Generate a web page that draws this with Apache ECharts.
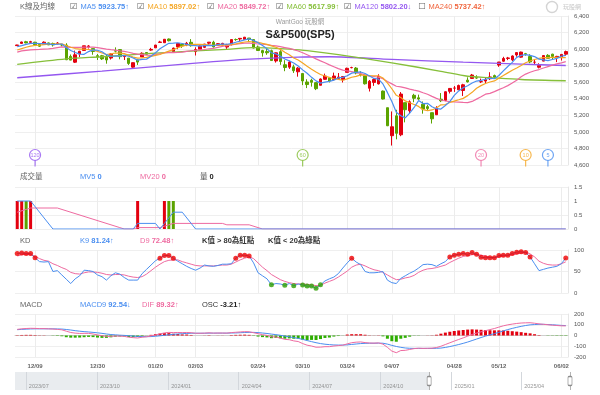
<!DOCTYPE html>
<html>
<head>
<meta charset="utf-8">
<script src="https://cdn.jsdelivr.net/npm/echarts@6.0.0/dist/echarts.min.js"></script>
<style>
html,body{margin:0;padding:0;background:#fff;}
#chart{width:600px;height:395px;}
</style>
</head>
<body>
<div id="chart"></div>
<script>
// ================= DATA =================
const dates = [
'2024-12-03','2024-12-04','2024-12-05','2024-12-06','2024-12-09','2024-12-10','2024-12-11','2024-12-12','2024-12-13','2024-12-16',
'2024-12-17','2024-12-18','2024-12-19','2024-12-20','2024-12-23','2024-12-24','2024-12-26','2024-12-27','2024-12-30','2024-12-31',
'2025-01-02','2025-01-03','2025-01-06','2025-01-07','2025-01-08','2025-01-10','2025-01-13','2025-01-14','2025-01-15','2025-01-16',
'2025-01-17','2025-01-21','2025-01-22','2025-01-23','2025-01-24','2025-01-27','2025-01-28','2025-01-29','2025-01-30','2025-01-31',
'2025-02-03','2025-02-04','2025-02-05','2025-02-06','2025-02-07','2025-02-10','2025-02-11','2025-02-12','2025-02-13','2025-02-14',
'2025-02-18','2025-02-19','2025-02-20','2025-02-21','2025-02-24','2025-02-25','2025-02-26','2025-02-27','2025-02-28','2025-03-03',
'2025-03-04','2025-03-05','2025-03-06','2025-03-07','2025-03-10','2025-03-11','2025-03-12','2025-03-13','2025-03-14','2025-03-17',
'2025-03-18','2025-03-19','2025-03-20','2025-03-21','2025-03-24','2025-03-25','2025-03-26','2025-03-27','2025-03-28','2025-03-31',
'2025-04-01','2025-04-02','2025-04-03','2025-04-04','2025-04-07','2025-04-08','2025-04-09','2025-04-10','2025-04-11','2025-04-14',
'2025-04-15','2025-04-16','2025-04-17','2025-04-21','2025-04-22','2025-04-23','2025-04-24','2025-04-25','2025-04-28','2025-04-29',
'2025-04-30','2025-05-01','2025-05-02','2025-05-05','2025-05-06','2025-05-07','2025-05-08','2025-05-09','2025-05-12','2025-05-13',
'2025-05-14','2025-05-15','2025-05-16','2025-05-19','2025-05-20','2025-05-21','2025-05-22','2025-05-23','2025-05-27','2025-05-28',
'2025-05-29','2025-05-30','2025-06-02','2025-06-03'];

// tick label weeks shown under the chart
const tickDates = ['2024-12-09','2024-12-30','2025-01-20','2025-02-03','2025-02-24','2025-03-10','2025-03-24','2025-04-07','2025-04-28','2025-05-12','2025-06-02'];

const prevClose = 6047.15;

// [open, close, low, high]
const kbars = [
[6042,6050,6038,6052],[6069,6086,6061,6089],[6089,6075,6070,6100],[6082,6090,6077,6100],[6083,6053,6048,6088],
[6057,6035,6027,6065],[6060,6084,6060,6093],[6075,6051,6050,6079],[6068,6051,6031,6078],[6063,6074,6059,6085],
[6053,6051,6033,6058],[6048,5872,5867,6071],[5912,5867,5866,5935],[5842,5931,5832,5982],[5941,5974,5905,5979],
[5984,6040,5983,6040],[6025,6038,6007,6049],[6006,5971,5932,6006],[5921,5907,5869,5941],[5920,5882,5869,5930],
[5903,5869,5824,5935],[5892,5942,5874,5950],[5983,5975,5960,6021],[5994,5909,5877,6000],[5910,5918,5868,5927],
[5891,5827,5809,5891],[5782,5836,5774,5838],[5870,5843,5809,5871],[5906,5950,5906,5961],[5959,5937,5930,5964],
[5988,5997,5979,6015],[6015,6049,6015,6051],[6081,6086,6074,6100],[6077,6119,6075,6119],[6122,6101,6093,6128],
[5970,6012,5962,6018],[6027,6068,5999,6070],[6058,6039,6015,6062],[6051,6071,6036,6087],[6082,6041,6030,6121],
[5970,5995,5923,6022],[5998,6038,5995,6043],[6021,6061,6012,6062],[6072,6084,6051,6084],[6083,6026,6019,6101],
[6047,6066,6044,6073],[6049,6069,6046,6076],[6025,6052,6003,6064],[6060,6115,6044,6116],[6116,6115,6100,6128],
[6122,6130,6099,6130],[6117,6144,6112,6147],[6134,6118,6085,6134],[6115,6013,6008,6115],[6026,5983,5977,6043],
[5982,5955,5909,5992],[5970,5956,5931,6010],[5981,5862,5858,5994],[5857,5955,5837,5959],[5969,5850,5810,5987],
[5811,5778,5733,5866],[5782,5843,5761,5861],[5786,5739,5712,5812],[5726,5770,5667,5783],[5705,5615,5565,5705],
[5603,5572,5529,5636],[5624,5599,5547,5642],[5595,5522,5505,5598],[5563,5639,5563,5646],[5635,5675,5631,5704],
[5654,5615,5597,5654],[5632,5675,5621,5716],[5646,5663,5633,5711],[5630,5668,5597,5670],[5719,5768,5719,5776],
[5776,5777,5768,5787],[5771,5712,5695,5784],[5695,5693,5670,5732],[5679,5581,5572,5685],[5527,5612,5488,5627],
[5598,5633,5556,5650],[5580,5671,5573,5696],[5493,5397,5391,5500],[5292,5074,5070,5292],[4954,5062,4835,5247],
[5194,4983,4910,5267],[4965,5457,4948,5481],[5353,5268,5115,5353],[5256,5363,5221,5381],[5442,5406,5358,5460],
[5412,5397,5387,5450],[5335,5276,5220,5367],[5305,5283,5255,5328],[5232,5158,5101,5232],[5207,5288,5207,5310],
[5395,5376,5360,5469],[5381,5485,5371,5489],[5490,5525,5464,5528],[5529,5529,5483,5554],[5508,5561,5505,5571],
[5500,5569,5434,5581],[5625,5604,5597,5659],[5646,5687,5643,5700],[5656,5650,5640,5684],[5605,5607,5590,5644],
[5614,5631,5587,5655],[5642,5664,5627,5721],[5680,5660,5644,5692],[5807,5844,5786,5845],[5854,5887,5847,5907],
[5888,5893,5867,5906],[5870,5917,5857,5924],[5929,5958,5908,5959],[5903,5964,5896,5969],[5944,5940,5920,5954],
[5910,5845,5830,5938],[5842,5842,5810,5878],[5781,5803,5767,5829],[5855,5922,5854,5924],[5925,5889,5887,5939],
[5939,5912,5875,5944],[5903,5912,5843,5919],[5897,5936,5862,5941],[5939,5970,5921,5982]];

const ma5 = [
6030,6043,6058,6070,6071,6068,6067,6063,6055,6059,
6062,6020,5983,5959,5939,5937,5970,5991,5986,5968,
5933,5914,5915,5915,5923,5914,5893,5867,5875,5879,
5913,5955,6004,6038,6070,6073,6077,6068,6058,6046,
6043,6037,6041,6044,6041,6055,6061,6059,6066,6083,
6096,6111,6124,6104,6078,6043,6005,5954,5942,5916,
5880,5858,5833,5796,5749,5708,5659,5616,5589,5601,
5610,5625,5653,5659,5678,5710,5718,5724,5706,5675,
5646,5638,5579,5477,5367,5237,5195,5169,5227,5295,
5378,5342,5345,5304,5280,5276,5318,5366,5441,5495,
5534,5558,5590,5614,5623,5636,5648,5642,5681,5737,
5790,5840,5900,5924,5934,5925,5910,5879,5870,5860,
5874,5888,5914,5923.75];

const ma10 = [
5989,6006,6022,6036,6044,6049,6055,6060,6062,6065,
6065,6044,6023,6007,5999,6000,5995,5987,5973,5953,
5935,5942,5953,5951,5945,5924,5904,5891,5895,5901,
5913,5924,5935,5956,5975,5993,6016,6036,6048,6058,
6058,6057,6055,6051,6044,6049,6049,6050,6055,6062,
6076,6086,6092,6085,6081,6069,6058,6039,6023,5997,
5961,5931,5893,5869,5832,5794,5758,5724,5693,5675,
5659,5642,5635,5624,5640,5660,5671,5689,5683,5676,
5678,5678,5651,5592,5521,5442,5416,5374,5352,5331,
5308,5268,5257,5265,5288,5327,5330,5356,5372,5388,
5405,5438,5478,5527,5559,5585,5603,5616,5648,5680,
5713,5744,5771,5803,5836,5857,5875,5889,5897,5897,
5899,5899,5897,5897.02];

const ma20 = [
5963,5978,5985,5991,5994,5996,6001,6004,6009,6019,
6027,6025,6022,6021,6022,6024,6025,6024,6017,6009,
6000,5993,5988,5979,5972,5962,5949,5939,5934,5927,
5924,5933,5944,5954,5960,5958,5960,5963,5972,5980,
5986,5991,5995,6004,6009,6021,6033,6043,6051,6060,
6067,6072,6073,6068,6062,6059,6054,6045,6039,6029,
6019,6009,5993,5977,5956,5932,5908,5882,5858,5836,
5810,5787,5764,5747,5736,5727,5715,5706,5688,5676,
5669,5660,5643,5608,5580,5551,5544,5531,5517,5504,
5493,5473,5454,5429,5405,5385,5373,5365,5362,5360,
5356,5353,5368,5396,5424,5456,5466,5486,5510,5534,
5559,5591,5625,5665,5698,5721,5739,5753,5772,5789,
5806,5821,5834,5849.72];

// [day index, value] read along the slow averages
const ma60 = [[0,5815],[11,5882],[19,5908],[30,5948],[40,5978],[47,5998],[53,6018],[57,6012],[61,6000],[65,5982],[72,5934],[84,5834],[95,5732],[101,5672],[106,5655],[113,5633],[123,5618]];
const ma120 = [[0,5654],[19,5735],[40,5830],[52,5878],[63,5904],[70,5908],[84,5876],[100,5842],[113,5818],[123,5802]];

const maPeriods = [5,10,20,60,120];
const maNames = ['MA5','MA10','MA20','MA60','MA120','MA240'];
const maLast = ['5923.75','5897.02','5849.72','5617.99','5802.20','5737.42'];
const maArrow = ['↑','↑','↑','↑','↓','↑'];
const maChecked = [true,true,true,true,true,false];

const volume = [
1,1,1,1,0,0,0,0,0,0,
0,0,0,0,0,0,0,0,0,0,
0,0,0,0,0,0,0,1,0,0,
0,0,0,1,1,1,0,0,0,0,
0,0,0,0,0,0,0,0,0,0,
0,0,0,0,0,0,0,0,0,0,
0,0,0,0,0,0,0,0,0,0,
0,0,0,0,0,0,0,0,0,0,
0,0,0,0,0,0,0,0,0,0,
0,0,0,0,0,0,0,0,0,0,
0,0,0,0,0,0,0,0,0,0,
0,0,0,0,0,0,0,0,0,0,
0,0,0,0];
const mv5 = [[0,1],[3,1],[8,0],[26,0],[27,0.2],[31,0.2],[32,0],[33,0.2],[34,0.4],[35,0.6],[37,0.6],[40,0],[123,0]];
const mv20 = [[0,0.6],[3,0.75],[9,0.75],[23,0.05],[24,0],[26,0],[27,0.05],[32,0.05],[33,0.1],[34,0.15],[35,0.2],[46,0.2],[47,0.15],[52,0.15],[55,0],[123,0]];

const kValues = [
92,93,92,92,82,73,72,73,50,52,
42,32,22,33,40,53,52,50,42,38,
30,40,47,44,36,30,30,30,45,55,
65,75,81,87,87,81,74,68,62,57,
53,58,65,63,62,64,67,67,68,81,
88,88,86,70,47,40,33,19,22,21,
18,22,17,21,18.6,16,16,11,19,28,
33,37,45,58,70,81,72,66,50,47,
47,48,50,30,24,22,34,40,46,51,
58,66,67,66,62,68,73,84,88,90,
92,90,94,90,83,82,82,82,87,88,
88,92,95,96,94,84,68,52,55,58,
60,62,68,81.24];
const dValues = [
86,89,90,89,85,80,76,74,68,64,
59,55,48,45,44,47,49,49,48,46,
43,42,43,43,42,39,37,36,38,44,
52,60,67,73,76,77,77,73,70,67,
64,63,63,63,63,64,65,65,67,72,
77,81,84,80,70,60,52,43,37,31,
27,24,22,21,21,20,19,17,18,23,
27,31,37,44,51,60,65,67,63,58,
54,52,48,42,36,31,32,35,37,41,
48,53,56,57,59,62,65,71,76,81,
85,87,89,90,88,86,83,82,84,86,
87,89,91,93,95,91,84,74,69,66,
65,65,68,72.48];

const dif = [
57,62,65,67,66,64,64,62,60,57,
53,40,28,22,19,20,20,14,6,-2,
-8,-8,-5,-6,-8,-16,-20,-23,-16,-12,
-4,6,15,24,29,27,28,27,28,26,
21,21,22,25,22,23,23,22,27,30,
33,36,35,26,17,8,1,-12,-14,-24,
-36,-39,-50,-56,-75,-90,-98,-109,-108,-104,
-104,-98,-94,-90,-78,-67,-62,-60,-66,-70,
-71,-69,-80,-110,-145,-160,-140,-138,-130,-122,
-118,-120,-119,-118,-112,-100,-84,-68,-52,-37,
-22,-6,10,22,34,45,55,65,78,90,
99,106,112,116,118,119,114,108,104,100,
96,93,90,89.32];
const macd9 = [
54,57,59,61,62,62,62,62,62,61,
60,56,51,45,40,36,33,29,25,20,
14,9,6,3,1,-2,-5,-9,-10,-11,
-10,-7,-3,2,7,11,14,17,19,21,
21,21,21,22,22,22,22,22,23,24,
26,28,29,29,27,23,19,13,8,2,
-6,-12,-20,-27,-36,-47,-57,-67,-75,-81,
-85,-88,-89,-89,-87,-83,-79,-75,-73,-72,
-72,-71,-72,-80,-92,-102,-110,-116,-119,-120,
-120,-120,-120,-120,-119,-117,-111,-103,-94,-84,
-73,-61,-47,-33,-19,-6,6,17,30,43,
55,66,76,85,93,99,102,104,104,102,
100,97,94,92.54];
const osc = [
3,5,6,6,4,2,2,0,-2,-4,
-7,-16,-20,-20,-19,-16,-13,-15,-19,-22,
-22,-17,-11,-9,-9,-14,-15,-14,-6,-1,
6,13,18,22,22,16,14,10,9,5,
0,0,1,3,0,1,1,0,4,6,
7,8,6,-3,-10,-15,-18,-25,-22,-26,
-30,-27,-30,-29,-39,-43,-41,-42,-33,-23,
-19,-10,-5,-1,9,12,12,12,7,2,
1,2,-8,-30,-53,-58,-30,-22,-11,-2,
-2,0,1,2,7,17,27,35,42,47,
51,55,57,55,53,51,49,48,48,47,
44,40,36,31,25,20,12,4,0,-2,
-2,-3,-3,-3.21];

// period navigator under the chart
const sliderRange = ['2023-06-17','2025-06-03'];
const sliderWindow = ['2024-12-03','2025-06-03'];
const sliderTicks = ['2023-07-01','2023-10-01','2024-01-01','2024-04-01','2024-07-01','2024-10-01','2025-01-01','2025-04-01'];

// ================= STYLE / LAYOUT =================
const FONT = '"Liberation Sans","Noto Sans CJK TC",sans-serif';
const COL = {ma5:'#4a8ef0', ma10:'#f5a623', ma20:'#ee6aa0', ma60:'#86bf3a', ma120:'#9457f0', ma240:'#f0643c',
  up:'#e3000f', down:'#5ba300', dotUp:'#f00000', dotDown:'#2e9e00'};
const maColors = [COL.ma5, COL.ma10, COL.ma20, COL.ma60, COL.ma120, COL.ma240];
const L = 15, R = 32;

const tickText = {};
(function(){ let p = 0; tickDates.forEach(d => { while (p < dates.length && dates[p] < d) p++; if (p < dates.length) tickText[p] = d.slice(5).replace('-','/'); }); })();
const isTick = (i) => tickText[i] !== undefined;

function rt(color, size, weight, family){ return {color:color, fontSize:size, fontWeight:weight||'normal', fontFamily:family||FONT}; }
function txt(text, left, top, rich, style){
  return {text:text, left:left, top:top, padding:0, itemGap:0,
    textStyle:Object.assign({fontSize:7.5, color:'#666', fontWeight:'normal', fontFamily:FONT, rich:rich||{}}, style||{})};
}
function pair(name, val, left, top, color, valColor){
  return txt('{n|'+name+'} {v|'+val+'}', left, top, {n:rt(color,7.5), v:rt(valColor||color,7.5,'bold')});
}

const titles = [];
titles.push(txt('K線及均線', 20, 3));
const legendX = [70,137,207,276,344,418];
maNames.forEach((n,j) => {
  titles.push(txt('{cb|'+(maChecked[j]?'☑':'☐')+'}{n|'+n+'} {v|'+maLast[j]+maArrow[j]+'}', legendX[j], 2.5,
    {cb:Object.assign(rt('#666',8.5,'normal','"DejaVu Sans"'),{padding:[0,3,0,0]}), n:rt(maColors[j],7.5), v:rt(maColors[j],7.5,'bold')}));
});
titles.push(txt('WantGoo 玩股網','center',18.5,{}, {fontSize:6.5, color:'#9a9a9a'}));
titles.push(txt('S&P500(SP5)','center',29.5,{}, {fontSize:11, color:'#222', fontWeight:'bold'}));
titles.push(txt('玩股網', 563, 4, {}, {fontSize:6, color:'#c6c6c6'}));
// volume header
titles.push(txt('成交量', 20, 173));
titles.push(pair('MV5','0',80,173,COL.ma5));
titles.push(pair('MV20','0',140,173,COL.ma20));
titles.push(pair('量','0',200,173,'#555','#222'));
// KD header
titles.push(txt('KD', 20, 237));
titles.push(pair('K9','81.24↑',80,237,COL.ma5));
titles.push(pair('D9','72.48↑',140,237,COL.ma20));
titles.push(txt('K值 > 80為紅點', 202, 237, {}, {color:'#333', fontWeight:'bold'}));
titles.push(txt('K值 < 20為綠點', 268, 237, {}, {color:'#333', fontWeight:'bold'}));
// MACD header
titles.push(txt('MACD', 20, 301));
titles.push(pair('MACD9','92.54↓',80,301,COL.ma5));
titles.push(pair('DIF','89.32↑',142,301,COL.ma20));
titles.push(pair('OSC','-3.21↑',202,301,'#333','#222'));

const grids = [
  {left:L, right:R, top:16, height:149},
  {left:L, right:R, top:187, height:42},
  {left:L, right:R, top:250, height:43},
  {left:L, right:R, top:314, height:43},
  {left:L, right:30, top:372, height:18, show:true, backgroundColor:'#e9ecef', borderWidth:0}
];

function catAxis(gi, showLabel){
  return {type:'category', gridIndex:gi, data:dates, boundaryGap:true,
    axisLine:{show:showLabel, lineStyle:{color:'#cfcfcf'}},
    axisTick:{show:false, interval:isTick, alignWithLabel:true},
    axisLabel:{show:showLabel, interval:isTick, formatter:(v,i)=>tickText[i]||'', fontSize:6, color:'#666', fontWeight:'bold', margin:6, fontFamily:FONT},
    splitLine:{show:true, interval:isTick, alignWithLabel:true, lineStyle:{color:'#ececec', width:1}}};
}
function valAxis(gi, min, max, interval){
  return {type:'value', gridIndex:gi, position:'right', min:min, max:max, interval:interval,
    axisLine:{show:true, lineStyle:{color:'#e6e6e6'}}, axisTick:{show:false},
    axisLabel:{fontSize:6, color:'#555', margin:6, fontFamily:FONT},
    splitLine:{show:true, lineStyle:{color:'#efefef'}}};
}
const ts = (d) => new Date(d).getTime();
const tMin = ts(sliderRange[0]), tMax = ts(sliderRange[1]);
const wStart = ts(sliderWindow[0]), wEnd = ts(sliderWindow[1]);

const xAxes = [catAxis(0,false), catAxis(1,false), catAxis(2,false), catAxis(3,true),
  {type:'time', gridIndex:4, min:tMin, max:tMax, show:false}];
const yAxes = [valAxis(0,4600,6400,200), valAxis(1,0,1.5,0.5), valAxis(2,0,100,50), valAxis(3,-200,200,100),
  {type:'value', gridIndex:4, show:false, min:-1, max:1}];

function line(name, data, xi, color, width, extra){
  return Object.assign({name:name, type:'line', xAxisIndex:xi, yAxisIndex:xi, data:data, symbol:'none',
    lineStyle:{color:color, width:width||1}, itemStyle:{color:color}, silent:true, z:3}, extra||{});
}

const series = [];
series.push({type:'candlestick', xAxisIndex:0, yAxisIndex:0, data:kbars, barWidth:3,
  itemStyle:{color:COL.up, color0:COL.down, borderColor:COL.up, borderColor0:COL.down, borderColorDoji:COL.up, borderWidth:1}, z:2});
series.push(line('MA120', ma120, 0, COL.ma120, 1.3, {smooth:0.3}));
series.push(line('MA60', ma60, 0, COL.ma60, 1.3, {smooth:0.3}));
series.push(line('MA20', ma20, 0, COL.ma20, 1.2));
series.push(line('MA10', ma10, 0, COL.ma10, 1.2));
series.push(line('MA5', ma5, 0, COL.ma5, 1.2));
// MA deduction markers
series.push({type:'scatter', xAxisIndex:0, yAxisIndex:0, silent:true, z:6,
  data: maPeriods.map((n,j)=>({value:[dates.length-n, 4600], itemStyle:{color:maColors[j]}})),
  symbol:'rect', symbolSize:[1.2,7], symbolOffset:[0,-2]});
series.push({type:'scatter', xAxisIndex:0, yAxisIndex:0, silent:true, z:7,
  data: maPeriods.map((n,j)=>({value:[dates.length-n, 4600], itemStyle:{color:'#fff', borderColor:maColors[j]}, label:{color:maColors[j]}})),
  symbol:'circle', symbolSize:11, symbolOffset:[0,-10], itemStyle:{borderWidth:1.2},
  label:{show:true, position:'inside', formatter:p=>String(maPeriods[p.dataIndex]), fontSize:5.5, fontFamily:FONT}});
// volume
series.push({type:'bar', xAxisIndex:1, yAxisIndex:1, barWidth:3, silent:true,
  data: volume.map((v,i)=>({value:v, itemStyle:{color: kbars[i][1] >= (i ? kbars[i-1][1] : prevClose) ? COL.up : COL.down}}))});
series.push(line('MV20', mv20, 1, COL.ma20, 1));
series.push(line('MV5', mv5, 1, COL.ma5, 1));
// KD
series.push(line('D9', dValues, 2, COL.ma20, 1));
series.push(line('K9', kValues, 2, COL.ma5, 1));
series.push({type:'scatter', xAxisIndex:2, yAxisIndex:2, silent:true, z:5, symbolSize:5,
  data:kValues.map((v,i)=>v>80?[i,v]:null).filter(Boolean), itemStyle:{color:COL.dotUp}});
series.push({type:'scatter', xAxisIndex:2, yAxisIndex:2, silent:true, z:5, symbolSize:5,
  data:kValues.map((v,i)=>v<20?[i,v]:null).filter(Boolean), itemStyle:{color:COL.dotDown}});
// MACD
series.push({type:'bar', xAxisIndex:3, yAxisIndex:3, barWidth:3, silent:true,
  data: osc.map(v=>({value:v, itemStyle:{color: v>=0 ? COL.up : '#2eae00'}}))});
series.push(line('MACD9', macd9, 3, COL.ma5, 1));
series.push(line('DIF', dif, 3, COL.ma20, 1));

// period navigator: selected window, quarter dividers, handles, labels
series.push({type:'line', xAxisIndex:4, yAxisIndex:4, data:[[tMin,0],[tMax,0]], symbol:'none', lineStyle:{opacity:0}, silent:true, z:1,
  markArea:{silent:true, itemStyle:{color:'#ffffff'}, data:[[{xAxis:wStart},{xAxis:wEnd}]]},
  markLine:{silent:true, symbol:'none', label:{show:false}, lineStyle:{color:'#d3d7dc', type:'solid', width:1},
    data: sliderTicks.map(d=>({xAxis:ts(d)}))}});
series.push({type:'line', xAxisIndex:4, yAxisIndex:4, data:[], symbol:'none', silent:true, z:3,
  markLine:{silent:true, symbol:'none', label:{show:false}, lineStyle:{color:'#b4b4b4', type:'solid', width:1},
    data:[{xAxis:wStart},{xAxis:wEnd}]},
  markPoint:{silent:true, symbol:'path://M1,0h2a1,1,0,0,1,1,1v8a1,1,0,0,1,-1,1h-2a1,1,0,0,1,-1,-1v-8a1,1,0,0,1,1,-1Z', symbolSize:[4,9],
    itemStyle:{color:'#fff', borderColor:'#8c8c8c', borderWidth:1}, label:{show:false},
    data:[{coord:[wStart,0]},{coord:[wEnd,0]}]}});
series.push({type:'scatter', xAxisIndex:4, yAxisIndex:4, silent:true, z:4, symbolSize:0,
  data: sliderTicks.map(d=>[ts(d), -0.62]),
  label:{show:true, position:'right', distance:3, fontSize:5.5, color:'#7a7a7a', fontFamily:FONT,
    formatter:p=>sliderTicks[p.dataIndex].slice(0,7).replace('-','/')}});

const option = {
  animation:false,
  backgroundColor:'#fff',
  textStyle:{fontFamily:FONT},
  title: titles,
  grid: grids,
  xAxis: xAxes,
  yAxis: yAxes,
  graphic:[{type:'circle', shape:{cx:552, cy:7, r:5.5}, style:{fill:'none', stroke:'#d4d4d4', lineWidth:1.4}, silent:true}],
  series: series
};

const chart = echarts.init(document.getElementById('chart'), null, {renderer:'canvas'});
chart.setOption(option);
</script>
</body>
</html>
